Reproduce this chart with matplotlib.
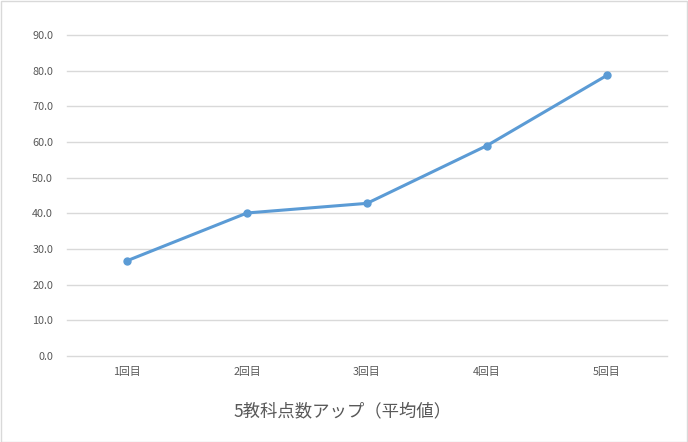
import matplotlib
matplotlib.use("Agg")
import matplotlib.pyplot as plt
from matplotlib.patches import Rectangle

plt.rcParams['font.family'] = ['Noto Sans CJK JP', 'DejaVu Sans']

categories = ["1回目", "2回目", "3回目", "4回目", "5回目"]
values = [26.7, 40.1, 42.8, 59.0, 78.7]
yticks = [0, 10, 20, 30, 40, 50, 60, 70, 80, 90]
title = "5教科点数アップ（平均値）"

W, H = 688, 442
fig = plt.figure(figsize=(W/100, H/100), dpi=100)
fig.patches.append(Rectangle((0.5/W, 0.5/H), 1-1.5/W, 1-1.5/H, transform=fig.transFigure,
                             fill=False, edgecolor='#D9D9D9', linewidth=1))
ax = fig.add_axes([67/W, (H-356)/H, 600/W, 321/H])
x = list(range(len(categories)))
ax.plot(x, values, color='#5B9BD5', linewidth=2.2, marker='o', markersize=5, zorder=3)
ax.set_xlim(-0.5, len(categories)-0.5)
ax.set_ylim(0, 90)
ax.set_yticks(yticks)
ax.set_yticklabels([f"{v:.1f}" for v in yticks])
ax.set_xticks(x)
ax.set_xticklabels(categories)
ax.grid(axis='y', color='#D9D9D9', linewidth=1)
for gl in ax.get_ygridlines():
    gl.set_clip_on(False)
ax.set_axisbelow(True)
for s in ax.spines.values():
    s.set_visible(False)
ax.tick_params(axis='both', length=0, labelsize=7.8, labelcolor='#595959')
ax.tick_params(axis='y', pad=10)
ax.tick_params(axis='x', pad=8)
fig.text(343/W, 1-411/H, title, ha='center', va='center', fontsize=12.5, color='#595959')
fig.savefig("out.png", dpi=100)
